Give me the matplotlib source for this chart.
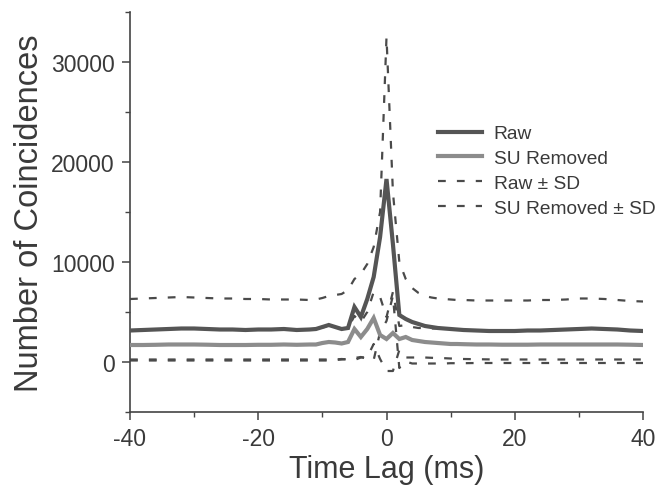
import matplotlib
matplotlib.use("Agg")
import matplotlib.pyplot as plt
from matplotlib.ticker import MultipleLocator
from matplotlib.lines import Line2D

plt.rcParams['font.family'] = ['Liberation Sans', 'DejaVu Sans']
plt.rcParams['axes.unicode_minus'] = False

lag = [-40, -38, -36, -34, -32, -30, -28, -26, -24, -22, -20, -18, -16, -14, -12,
       -11, -10, -9, -8, -7, -6, -5, -4, -3, -2, -1, 0, 1, 2, 3, 4, 5, 6, 7, 8, 9, 10, 11,
       12, 14, 16, 18, 20, 22, 24, 26, 28, 30, 32, 34, 36, 38, 40]

raw = [3150, 3200, 3250, 3300, 3350, 3350, 3300, 3250, 3250, 3200, 3250, 3250, 3300, 3200, 3250,
       3300, 3500, 3700, 3500, 3300, 3400, 5500, 4500, 6300, 8500, 12500, 18300, 11800, 4700, 4300,
       4000, 3800, 3600, 3500, 3400, 3350, 3300, 3250,
       3200, 3150, 3100, 3100, 3100, 3150, 3150, 3200, 3250, 3300, 3350, 3300, 3250, 3150, 3100]

su_removed = [1700, 1700, 1720, 1750, 1750, 1750, 1730, 1700, 1700, 1700, 1720, 1720, 1750, 1720, 1750,
              1750, 1900, 2000, 1950, 1850, 2000, 3300, 2500, 3300, 4400, 2700, 2300, 2900, 2300, 2500,
              2200, 2100, 2000, 1950, 1900, 1850, 1800, 1800,
              1780, 1750, 1750, 1730, 1730, 1730, 1750, 1750, 1750, 1750, 1750, 1750, 1750, 1730, 1700]

raw_plus_sd = [6300, 6350, 6400, 6450, 6500, 6450, 6400, 6350, 6350, 6300, 6300, 6250, 6250, 6250, 6200,
               6250, 6400, 6600, 6700, 6800, 7200, 8300, 8800, 9800, 11500, 15000, 32500, 17000, 10000, 8300,
               7400, 6900, 6600, 6450, 6350, 6300, 6250, 6200,
               6200, 6150, 6150, 6150, 6150, 6150, 6200, 6200, 6250, 6350, 6350, 6300, 6200, 6100, 6050]

raw_minus_sd = [150, 150, 150, 150, 150, 150, 150, 150, 150, 150, 150, 150, 150, 150, 150,
                150, 150, 150, 200, 250, 300, 400, 500, 300, 200, 3000, 4100, 6600, -600, 50,
                -150, -150, -150, -150, -150, -150, -120, -120,
                -120, -100, -100, -100, -100, -100, -100, -100, -100, -100, -100, -100, -100, -100, -100]

su_plus_sd = [3150, 3200, 3250, 3300, 3350, 3350, 3300, 3250, 3250, 3200, 3250, 3250, 3300, 3200, 3250,
              3300, 3450, 3600, 3500, 3350, 3400, 4600, 4000, 5000, 7000, 6500, 4500, 7000, 3600, 3700,
              3500, 3400, 3400, 3350, 3350, 3300, 3300, 3250,
              3200, 3150, 3100, 3100, 3100, 3150, 3150, 3200, 3250, 3300, 3350, 3300, 3250, 3150, 3100]

su_minus_sd = [250, 250, 250, 250, 250, 250, 250, 250, 250, 250, 250, 250, 250, 250, 250,
               250, 250, 250, 250, 300, 250, 200, 450, 500, 1800, 300, -900, -900, 1200, 450,
               450, 450, 450, 420, 400, 380, 350, 320,
               300, 280, 260, 250, 250, 250, 250, 250, 250, 250, 250, 250, 250, 250, 250]

labels = ["Raw", "SU Removed", "Raw \u00b1 SD", "SU Removed \u00b1 SD"]

txt = '#3a3a3a'
fig = plt.figure(figsize=(6.69, 4.89), dpi=100)
ax = fig.add_axes([130/669, 1-413/489, (643-130)/669, (413-13)/489])

dash = (3.5, 5)
dcol = '#4a4a4a'
dlw = 1.6
ax.plot(lag, raw_plus_sd, color=dcol, lw=dlw, dashes=dash, zorder=2)
ax.plot(lag, raw_minus_sd, color=dcol, lw=dlw, dashes=dash, zorder=2)
ax.plot(lag, su_plus_sd, color=dcol, lw=dlw, dashes=dash, zorder=2)
ax.plot(lag, su_minus_sd, color=dcol, lw=dlw, dashes=dash, zorder=2)
l1, = ax.plot(lag, raw, color='#555555', lw=3.0, zorder=3, solid_joinstyle='miter')
l2, = ax.plot(lag, su_removed, color='#8c8c8c', lw=3.0, zorder=3, solid_joinstyle='miter')

h3 = Line2D([], [], color=dcol, lw=dlw, dashes=dash)
h4 = Line2D([], [], color=dcol, lw=dlw, dashes=dash)
leg = ax.legend([l1, l2, h3, h4], labels, loc='upper left',
                bbox_to_anchor=(438/669, 1-126/489), bbox_transform=fig.transFigure,
                frameon=False, fontsize=13.8, handlelength=2.3, handletextpad=0.6,
                labelspacing=0.38, borderpad=0, borderaxespad=0)
for t in leg.get_texts():
    t.set_color(txt)

ax.set_xlim(-40, 40)
ax.set_ylim(-5000, 35000)
ax.xaxis.set_minor_locator(MultipleLocator(10))
ax.yaxis.set_minor_locator(MultipleLocator(5000))
ax.set_xticks([-40, -20, 0, 20, 40])
ax.set_yticks([0, 10000, 20000, 30000])

for s in ['top', 'right']:
    ax.spines[s].set_visible(False)
for s in ['left', 'bottom']:
    ax.spines[s].set_color('#444444')
    ax.spines[s].set_linewidth(1.2)

ax.tick_params(which='major', direction='out', length=6, width=1.1, color='#444444',
               labelsize=16.5, labelcolor=txt, pad=5)
ax.tick_params(which='minor', direction='out', length=3.5, width=1.0, color='#444444')

ax.set_xlabel("Time Lag (ms)", fontsize=22, color=txt, labelpad=3)
ax.set_ylabel("Number of Coincidences", fontsize=23.5, color=txt, labelpad=4)

fig.savefig("out.png", dpi=100)
